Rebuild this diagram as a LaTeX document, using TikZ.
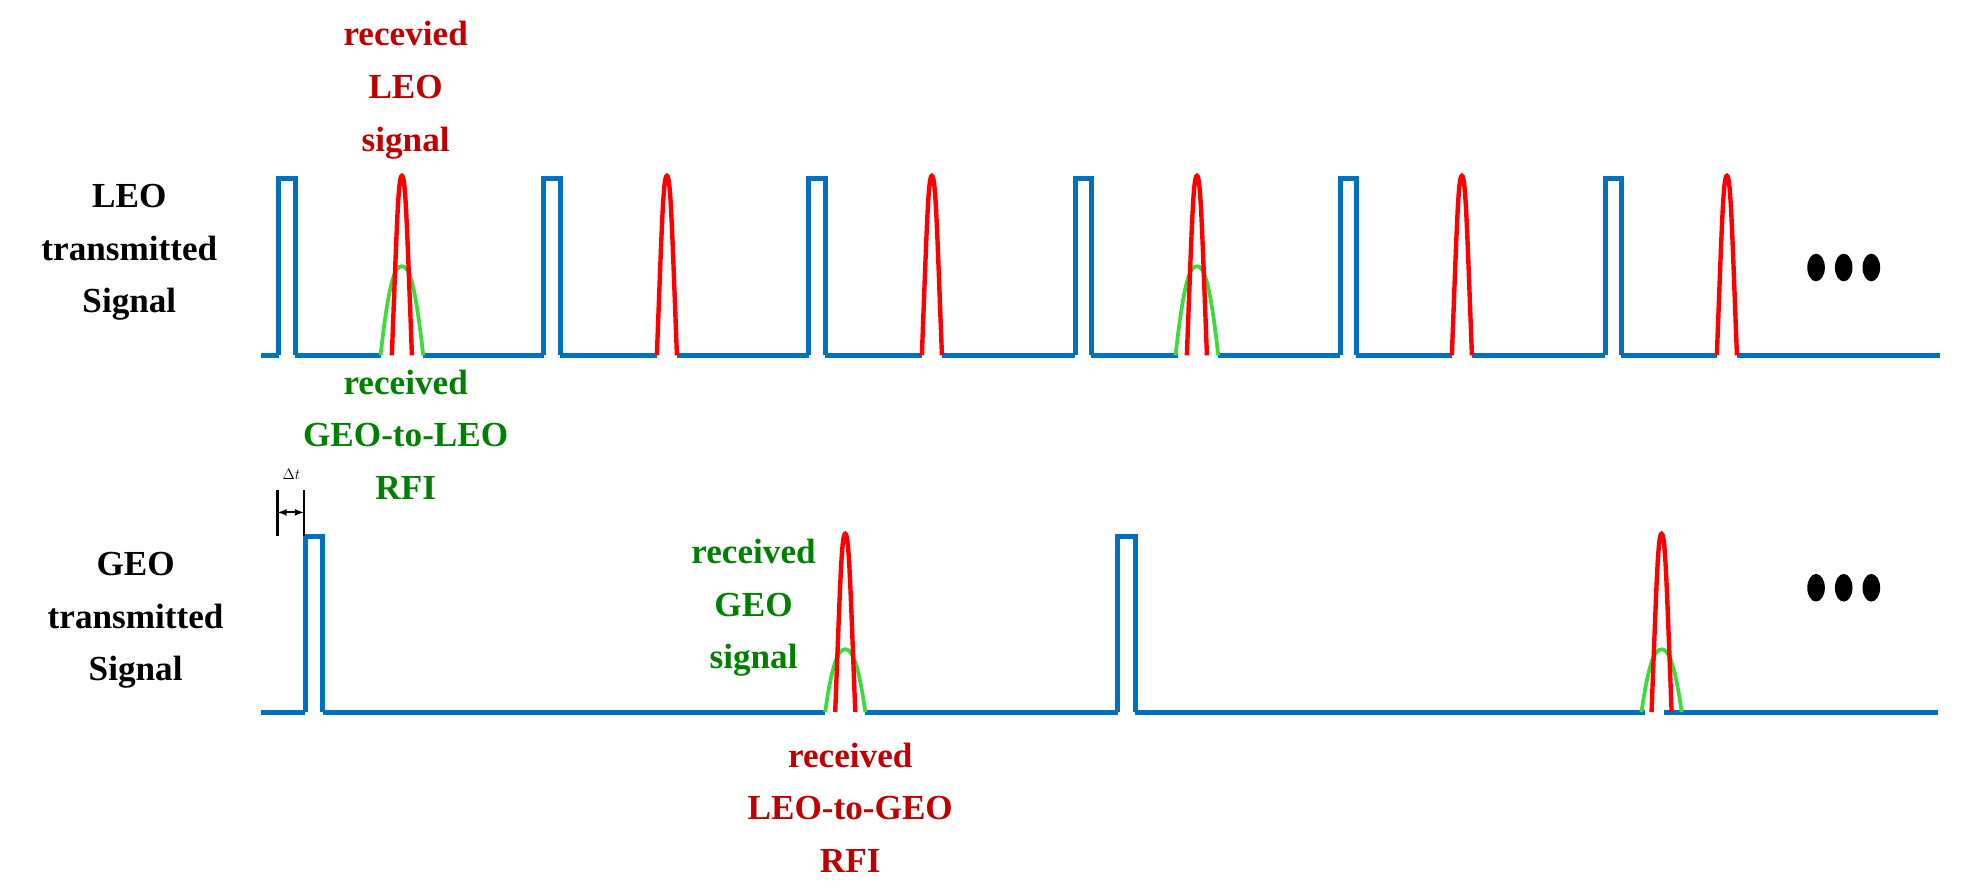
\documentclass[tikz,border=0pt]{standalone}
\usepackage{fontspec}
\setmainfont{Liberation Serif}
\begin{document}
\begin{tikzpicture}[x=1pt,y=-1pt,
  blue line/.style={draw={rgb,255:red,0;green,112;blue,192},line width=4pt},
  redp/.style={draw=red,line width=3.5pt},
  greenp/.style={draw={rgb,255:red,60;green,220;blue,60},line width=3pt},
  lbl/.style={font=\bfseries\fontsize{28}{42}\selectfont,align=center},
  rlbl/.style={lbl,text={rgb,255:red,192;green,0;blue,0}},
  glbl/.style={lbl,text={rgb,255:red,0;green,128;blue,0}}]
\useasboundingbox (0,0) rectangle (1563,711);
% LEO pulses
\foreach \p in {222,433,644,856,1067,1278}
  \draw[blue line] (\p,283) -- (\p,142) -- (\p+13,142) -- (\p+13,283);
\draw[blue line] (208,283) -- (222,283);
\foreach \a/\b in {235/303,337/433,446/523,539/644,657/734,750/856,869/938,970/1067,1080/1156,1172/1278,1291/1367,1383/1545}
  \draw[blue line] (\a,283) -- (\b,283);
% green LEO
\foreach \p in {320,953}
  \draw[greenp] (\p-17,283) .. controls (\p-10,220) and (\p-5,212) .. (\p,212) .. controls (\p+5,212) and (\p+10,220) .. (\p+17,283);
\foreach \p in {320,531,742,953,1164,1375}
  \draw[redp] (\p-8,283) .. controls (\p-4,180) and (\p-3,140) .. (\p,140) .. controls (\p+3,140) and (\p+4,180) .. (\p+8,283);
% GEO
\foreach \p in {243,890}
  \draw[blue line] (\p,567) -- (\p,427) -- (\p+14,427) -- (\p+14,567);
\draw[blue line] (208,567) -- (243,567);
\foreach \a/\b in {257/657,689/890,904/1310,1325/1543}
  \draw[blue line] (\a,567) -- (\b,567);
\foreach \p in {673,1323}
  \draw[greenp] (\p-16,567) .. controls (\p-10,525) and (\p-5,517) .. (\p,517) .. controls (\p+5,517) and (\p+10,525) .. (\p+16,567);
\foreach \p in {673,1323}
  \draw[redp] (\p-8,567) .. controls (\p-4,465) and (\p-3,425) .. (\p,425) .. controls (\p+3,425) and (\p+4,465) .. (\p+8,567);
% dots
\foreach \y/\n in {213/a,468/b}
  \foreach \x in {1446,1468,1490}
    \fill (\x,\y) ellipse [x radius=7pt, y radius=11pt];
% delta t
\coordinate (dl) at (221,408);
\coordinate (dr) at (242,408);
\draw[line width=2pt] (221,390) -- (221,427);
\draw[line width=2pt] (242,390) -- (242,427);
\draw[line width=1.5pt,<->,>=latex] (dl) -- (dr);
\node[font=\fontsize{13}{13}\selectfont] (dt) at (232,378) {$\Delta t$};
% labels
\node[lbl] (leo) at (103,201) {LEO\\transmitted\\Signal};
\node[lbl] (geo) at (108,494) {GEO\\transmitted\\Signal};
\node[rlbl] (rl) at (323,72) {recevied\\LEO\\signal};
\node[glbl] (gl) at (323,346) {received\\GEO-to-LEO\\RFI};
\node[glbl] (gs) at (600,484) {received\\GEO\\signal};
\node[rlbl] (rr) at (677,643) {received\\LEO-to-GEO\\RFI};
\end{tikzpicture}
\end{document}
